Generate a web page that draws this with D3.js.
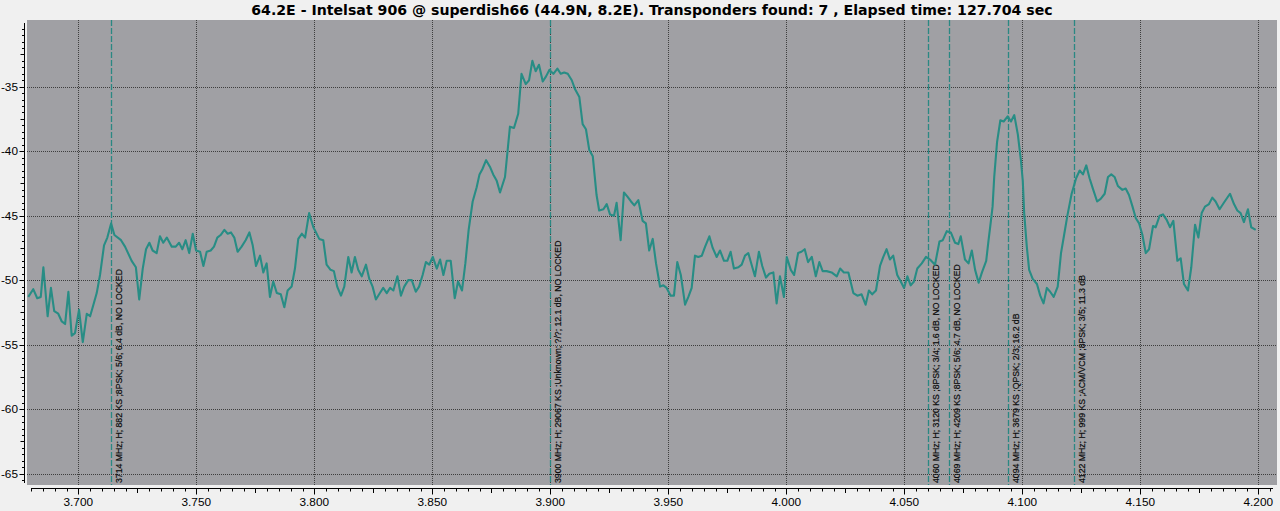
<!DOCTYPE html>
<html>
<head>
<meta charset="utf-8">
<script src="https://cdn.jsdelivr.net/npm/d3@7"></script>
<style>
  html, body { margin: 0; padding: 0; background: #f0f0f0; }
  svg { display: block; }
</style>
</head>
<body>
<svg id="chart" width="1280" height="511"></svg>
<script>
const titleText = "64.2E - Intelsat 906 @ superdish66 (44.9N, 8.2E). Transponders found: 7 , Elapsed time: 127.704 sec";

const freqMHz = [
3678.8,3680.9,3682.6,3684.1,3685.2,3687.0,3688.4,3689.8,3691.5,3693.0,3694.4,3695.8,3697.2,3698.6,3700.3,3701.9,3703.6,3705.0,3706.4,3707.8,
3709.2,3710.9,3712.3,3713.9,3715.3,3718.1,3719.8,3722.6,3724.4,3725.8,3727.3,3728.7,3730.1,3731.5,3733.2,3734.6,3736.0,3737.5,3739.6,3741.3,
3742.7,3744.1,3745.5,3747.0,3748.5,3749.9,3751.6,3753.0,3754.4,3756.1,3757.5,3758.9,3760.3,3761.9,3763.3,3764.7,3766.1,3767.5,3769.2,3770.9,
3772.5,3773.9,3775.3,3777.0,3778.4,3779.8,3781.2,3782.6,3784.1,3785.8,3787.3,3788.7,3790.4,3791.8,3793.2,3794.7,3796.1,3797.8,3799.6,3802.1,
3803.8,3805.2,3806.9,3808.3,3809.7,3811.3,3812.7,3814.4,3815.8,3817.2,3818.6,3820.1,3821.9,3823.3,3824.7,3826.1,3827.8,3829.2,3830.7,3832.1,
3833.5,3835.2,3836.7,3838.1,3839.8,3841.3,3843.0,3844.4,3845.9,3847.3,3848.7,3850.2,3851.9,3853.3,3854.7,3856.1,3857.8,3859.5,3860.9,3862.6,
3864.0,3865.4,3867.1,3868.8,3870.0,3871.2,3872.8,3874.4,3875.8,3877.3,3878.7,3880.8,3882.9,3884.6,3886.4,3887.8,3889.6,3891.0,3892.4,3893.8,
3895.2,3896.8,3898.2,3899.6,3901.3,3903.0,3904.4,3905.9,3907.4,3909.1,3910.5,3912.3,3913.7,3915.1,3916.5,3918.0,3919.6,3920.7,3922.5,3923.9,
3925.3,3927.0,3928.1,3929.8,3931.2,3932.6,3934.2,3935.6,3937.3,3939.1,3940.5,3941.9,3943.4,3944.8,3946.5,3947.9,3949.3,3951.0,3952.4,3953.8,
3955.3,3957.1,3958.5,3959.9,3961.3,3962.7,3964.2,3965.6,3967.4,3968.8,3970.5,3971.9,3973.6,3975.0,3976.4,3977.8,3979.7,3981.1,3982.5,3983.9,
3985.3,3986.7,3988.4,3989.8,3991.4,3992.8,3994.5,3995.9,3997.3,3999.0,4000.2,4001.9,4003.3,4005.0,4006.4,4007.8,4009.2,4010.8,4012.5,4014.0,
4015.4,4017.1,4019.2,4021.4,4022.8,4024.4,4026.3,4028.4,4030.1,4031.9,4033.6,4035.0,4036.4,4038.0,4039.7,4041.1,4042.5,4043.9,4045.3,4047.0,
4048.5,4049.9,4051.3,4052.7,4054.1,4055.5,4057.4,4059.2,4060.9,4063.0,4064.9,4066.3,4068.0,4069.7,4071.5,4072.9,4073.9,4075.7,4077.2,4078.6,
4080.0,4081.5,4082.9,4084.7,4085.7,4086.7,4087.4,4088.1,4089.3,4090.7,4092.1,4093.8,4095.2,4096.6,4098.1,4099.4,4100.2,4100.8,4101.9,4102.9,
4104.4,4106.2,4107.6,4109.0,4110.4,4111.8,4113.3,4115.0,4116.4,4117.8,4119.1,4120.9,4122.8,4124.3,4125.7,4127.1,4128.5,4129.9,4131.7,4133.2,
4134.9,4136.3,4137.7,4139.1,4140.5,4142.4,4143.8,4145.2,4146.7,4148.1,4149.5,4150.9,4152.3,4153.7,4155.4,4156.5,4158.2,4159.6,4161.1,4162.6,
4164.0,4165.7,4167.1,4168.5,4170.2,4171.6,4173.2,4174.6,4176.0,4177.4,4179.1,4180.5,4181.9,4183.6,4185.4,4188.0,4189.7,4191.1,4192.5,4193.9,
4195.6,4197.0,4198.9
];

const levelDb = [
-51.3,-50.7,-51.4,-51.3,-49.0,-52.8,-50.6,-52.4,-52.6,-53.2,-53.4,-50.9,-54.3,-54.1,-52.3,-54.8,-52.6,-52.8,-51.9,-51.0,
-49.6,-47.3,-46.7,-45.6,-46.5,-46.9,-47.4,-48.5,-49.0,-51.5,-49.1,-47.6,-47.1,-47.7,-47.9,-46.6,-47.1,-46.7,-47.4,-47.4,
-47.1,-47.6,-46.9,-47.9,-46.4,-47.7,-47.8,-48.9,-47.8,-47.7,-47.4,-46.7,-46.5,-46.1,-46.4,-46.3,-46.7,-47.8,-47.4,-46.9,
-46.3,-47.3,-48.9,-48.1,-49.4,-48.7,-51.3,-50.1,-51.0,-51.1,-52.1,-50.8,-50.5,-49.1,-46.8,-46.4,-46.7,-44.8,-45.9,-46.8,
-46.9,-48.8,-49.2,-49.3,-50.5,-51.2,-50.5,-48.2,-49.4,-48.2,-49.2,-49.7,-48.8,-49.9,-50.5,-51.5,-51.0,-50.6,-51.0,-50.6,
-50.8,-49.7,-51.2,-50.5,-50.0,-50.0,-50.9,-50.5,-49.6,-48.6,-48.8,-48.2,-49.1,-48.4,-49.6,-48.5,-48.5,-51.4,-50.1,-50.8,
-48.7,-46.1,-43.9,-42.8,-41.8,-41.4,-40.7,-41.2,-41.8,-42.3,-43.2,-42.0,-38.1,-38.2,-37.1,-34.0,-34.8,-34.5,-33.0,-33.8,
-33.3,-34.6,-34.2,-33.7,-34.0,-33.6,-34.0,-33.9,-34.0,-34.5,-35.2,-35.8,-37.9,-38.3,-39.9,-40.4,-43.4,-44.6,-44.5,-44.1,
-44.9,-45.0,-44.0,-46.9,-43.2,-43.5,-43.9,-44.2,-43.8,-45.4,-45.6,-47.7,-46.8,-48.7,-50.5,-50.4,-50.6,-51.2,-51.2,-48.6,
-49.6,-51.9,-51.3,-50.6,-48.1,-48.2,-48.1,-47.4,-46.6,-47.5,-48.2,-47.7,-48.5,-48.5,-47.8,-49.1,-49.0,-48.8,-48.1,-47.9,
-48.8,-49.7,-47.8,-48.9,-49.8,-49.5,-49.4,-51.8,-49.7,-51.3,-48.2,-49.2,-49.6,-47.9,-47.8,-47.6,-48.6,-48.2,-49.7,-48.6,
-49.3,-49.3,-49.4,-49.7,-49.1,-49.4,-49.4,-51.0,-51.2,-51.1,-51.9,-50.8,-51.1,-50.8,-48.9,-48.2,-47.6,-48.4,-48.1,-49.6,
-50.1,-50.6,-49.7,-50.4,-50.1,-49.1,-48.7,-48.2,-48.4,-48.8,-47.0,-46.9,-46.2,-46.3,-47.1,-47.2,-46.6,-48.4,-48.7,-47.7,
-49.2,-50.2,-49.4,-48.5,-46.9,-45.4,-44.3,-42.0,-39.3,-37.6,-37.7,-37.3,-37.7,-37.2,-38.7,-40.7,-42.3,-44.8,-47.4,-49.2,
-49.9,-50.3,-51.2,-51.8,-50.6,-50.9,-51.3,-50.5,-47.9,-46.4,-45.0,-43.3,-42.1,-41.5,-41.8,-41.1,-42.1,-42.9,-43.9,-43.7,
-43.3,-42.0,-41.8,-42.0,-42.7,-43.0,-42.9,-43.4,-44.3,-45.2,-45.6,-46.5,-47.9,-47.6,-45.8,-45.9,-45.0,-44.9,-45.3,-45.9,
-45.4,-48.5,-48.3,-50.3,-50.8,-49.0,-45.7,-46.7,-44.8,-44.3,-44.1,-43.6,-43.9,-44.5,-44.0,-43.3,-44.1,-44.6,-44.8,-45.5,
-44.5,-45.9,-46.1
];

const markerFreqs = [3714, 3900, 4060, 4069, 4094, 4122];
const markerLabels = [
  "3714 MHz; H; 882 KS ;8PSK; 5/6; 6.4 dB, NO LOCKED",
  "3900 MHz; H; 29067 KS ;Unknown; ?/?; 12.1 dB, NO LOCKED",
  "4060 MHz; H; 3120 KS ;8PSK; 3/4; 1.6 dB, NO LOCKED",
  "4069 MHz; H; 4209 KS ;8PSK; 5/6; 4.7 dB, NO LOCKED",
  "4094 MHz; H; 3679 KS ;QPSK; 2/3; 16.2 dB",
  "4122 MHz; H; 999 KS ;ACM/VCM ;8PSK; 3/5; 11.3 dB"
];

const xMajorTicks = [3700, 3750, 3800, 3850, 3900, 3950, 4000, 4050, 4100, 4150, 4200];
const xTickLabels = ["3.700", "3.750", "3.800", "3.850", "3.900", "3.950", "4.000", "4.050", "4.100", "4.150", "4.200"];
const yMajorTicks = [-35, -40, -45, -50, -55, -60, -65];
const yTickLabels = ["-35", "-40", "-45", "-50", "-55", "-60", "-65"];

const svg = d3.select("#chart");
const plot = { left: 27, right: 1277, top: 20, bottom: 485 };

const x = d3.scaleLinear().domain([3678.26, 4207.92]).range([plot.left, plot.right]);
const y = d3.scaleLinear().domain([-65.88, -29.83]).range([plot.bottom, plot.top]);

// Plot canvas
svg.append("rect")
  .attr("x", plot.left).attr("y", plot.top)
  .attr("width", plot.right - plot.left).attr("height", plot.bottom - plot.top)
  .attr("fill", "#a0a0a4");

// Grid
const grid = svg.append("g").attr("stroke", "#3e3e3e").attr("stroke-width", 1).attr("stroke-dasharray", "1,1");
grid.selectAll("line.gx").data(xMajorTicks).join("line")
  .attr("x1", d => Math.round(x(d)) + 0.5).attr("x2", d => Math.round(x(d)) + 0.5)
  .attr("y1", plot.top).attr("y2", plot.bottom);
grid.selectAll("line.gy").data(yMajorTicks).join("line")
  .attr("y1", d => Math.round(y(d)) + 0.5).attr("y2", d => Math.round(y(d)) + 0.5)
  .attr("x1", plot.left).attr("x2", plot.right);

// Transponder markers
const mk = svg.append("g");
mk.selectAll("line").data(markerFreqs).join("line")
  .attr("x1", d => Math.round(x(d)) + 0.5).attr("x2", d => Math.round(x(d)) + 0.5)
  .attr("y1", plot.top).attr("y2", plot.bottom)
  .attr("stroke", "#2a8883").attr("stroke-width", 1.3).attr("stroke-dasharray", "6,2");

// Trace
const pts = freqMHz.map((f, i) => [f, levelDb[i]]);
svg.append("path")
  .datum(pts)
  .attr("fill", "none")
  .attr("stroke", "#288d85")
  .attr("stroke-width", 2.1)
  .attr("stroke-linejoin", "round")
  .attr("d", d3.line().x(d => x(d[0])).y(d => y(d[1])));

// Marker labels
mk.selectAll("text").data(markerFreqs).join("text")
  .attr("transform", d => `translate(${Math.round(x(d)) + 10.5},483) rotate(-90)`)
  .attr("text-anchor", "start")
  .attr("font-family", "Liberation Sans, Arial, sans-serif")
  .attr("font-size", "8.7px")
  .attr("fill", "#0a0a0a")
  .attr("stroke", "#0a0a0a")
  .attr("stroke-width", 0.2)
  .text((d, i) => markerLabels[i]);

// X axis
const xa = svg.append("g").attr("stroke", "#000").attr("stroke-width", 1);
const axY = 488.5;
xa.append("line").attr("x1", 31).attr("x2", 1273).attr("y1", axY).attr("y2", axY);
const xMinor = d3.range(3680, 4206, 5);
xa.selectAll("line.t").data(xMinor).join("line")
  .attr("x1", d => Math.round(x(d)) + 0.5).attr("x2", d => Math.round(x(d)) + 0.5)
  .attr("y1", axY).attr("y2", d => axY + (d % 50 === 0 ? 6 : (d % 25 === 0 ? 4.5 : 3)));
svg.append("g").selectAll("text").data(xMajorTicks).join("text")
  .attr("x", d => x(d)).attr("y", 506)
  .attr("text-anchor", "middle")
  .attr("font-family", "Liberation Sans, Arial, sans-serif")
  .attr("font-size", "11.8px")
  .attr("fill", "#000")
  .text((d, i) => xTickLabels[i]);

// Y axis
const ya = svg.append("g").attr("stroke", "#000").attr("stroke-width", 1);
const axX = 24.5;
ya.append("line").attr("x1", axX).attr("x2", axX).attr("y1", 23).attr("y2", 483);
const yMinor = d3.range(-65.5, -30.0, 0.5);
ya.selectAll("line.t").data(yMinor).join("line")
  .attr("y1", d => Math.round(y(d)) + 0.5).attr("y2", d => Math.round(y(d)) + 0.5)
  .attr("x1", axX).attr("x2", d => axX - (d % 5 === 0 ? 5 : (Math.abs(d % 2.5) < 1e-9 ? 4 : 2.5)));
svg.append("g").selectAll("text").data(yMajorTicks).join("text")
  .attr("x", 18).attr("y", d => y(d) + 4)
  .attr("text-anchor", "end")
  .attr("font-family", "Liberation Sans, Arial, sans-serif")
  .attr("font-size", "11.8px")
  .attr("fill", "#000")
  .text((d, i) => yTickLabels[i]);

// Title
const title = svg.append("text")
  .attr("x", (plot.left + plot.right) / 2).attr("y", 15)
  .attr("text-anchor", "middle")
  .attr("font-family", "DejaVu Sans, Verdana, sans-serif")
  .attr("font-weight", "bold")
  .attr("font-size", "16px")
  .attr("fill", "#000")
  .text(titleText);
const tw = title.node().getComputedTextLength();
title.attr("font-size", (16 * 802 / tw).toFixed(2) + "px");
</script>
</body>
</html>
